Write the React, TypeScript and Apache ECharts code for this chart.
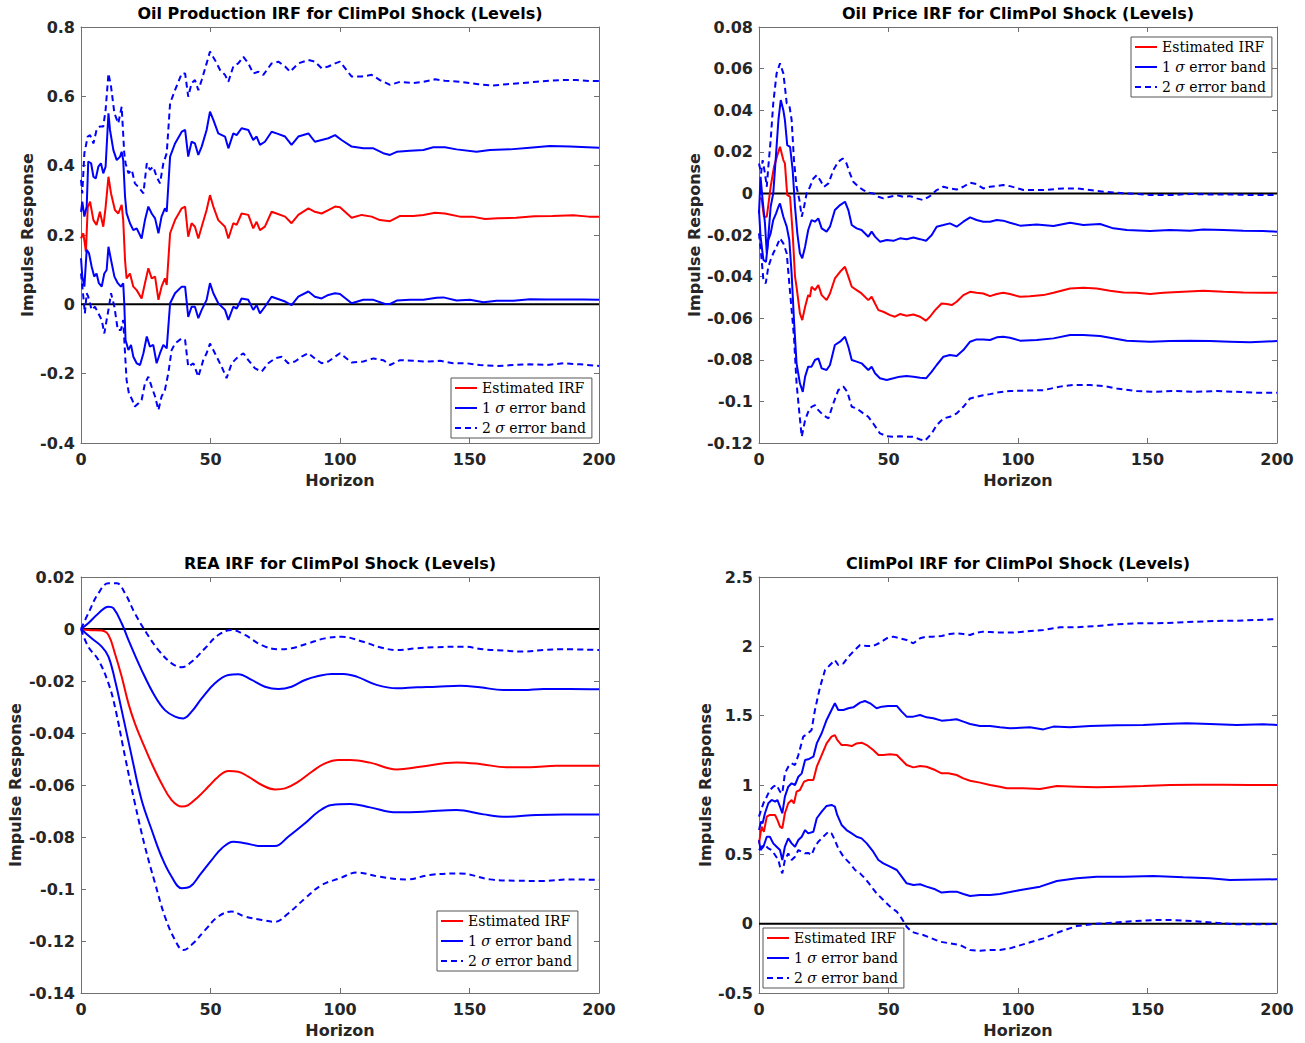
import React, { useEffect, useRef } from "react";
import * as echarts from "echarts";

type Pt = [number, number];

// ---------- tick values ----------
const horizonTicks = [0, 50, 100, 150, 200];
const prodYTicks = [-0.4, -0.2, 0, 0.2, 0.4, 0.6, 0.8];
const priceYTicks = [-0.12, -0.1, -0.08, -0.06, -0.04, -0.02, 0, 0.02, 0.04, 0.06, 0.08];
const reaYTicks = [-0.14, -0.12, -0.1, -0.08, -0.06, -0.04, -0.02, 0, 0.02];
const climYTicks = [-0.5, 0, 0.5, 1, 1.5, 2, 2.5];

const titles = [
  "Oil Production IRF for ClimPol Shock (Levels)",
  "Oil Price IRF for ClimPol Shock (Levels)",
  "REA IRF for ClimPol Shock (Levels)",
  "ClimPol IRF for ClimPol Shock (Levels)",
];
const xAxisName = "Horizon";
const yAxisName = "Impulse Response";
const legendNames = ["Estimated IRF", "1 σ error band", "2 σ error band"];

// ---------- Oil production ----------
const prodIrf: Pt[] = [[0,0.19],[0.9,0.205],[1.9,0.152],[2.6,0.28],[3.5,0.296],[4.8,0.243],[6,0.229],[7.3,0.267],[8.6,0.224],[9.5,0.28],[10.6,0.368],[11.6,0.32],[13.1,0.272],[14.4,0.262],[15.7,0.287],[16.3,0.243],[17,0.128],[17.6,0.075],[18.9,0.089],[20.2,0.051],[21.5,0.041],[23.4,0.017],[24.7,0.061],[26,0.104],[27.3,0.075],[28.6,0.08],[29.9,0.013],[31.1,0.051],[32.4,0.075],[33.1,0.056],[34.4,0.205],[36.3,0.243],[38.9,0.277],[40.2,0.282],[41.4,0.195],[42.7,0.234],[44,0.224],[45.3,0.19],[46.6,0.224],[48.5,0.272],[49.8,0.315],[51.1,0.282],[53,0.243],[55.6,0.224],[56.9,0.19],[58.8,0.234],[60.1,0.229],[62,0.262],[64.6,0.258],[66.5,0.219],[67.8,0.238],[69.1,0.214],[71,0.224],[73.6,0.267],[75.5,0.262],[78.8,0.253],[81.3,0.234],[83.9,0.258],[87.8,0.277],[90.3,0.267],[92.9,0.262],[95.5,0.272],[98.1,0.282],[100,0.28],[104.5,0.25],[108.4,0.258],[112.2,0.253],[115.4,0.243],[119.3,0.24],[123.2,0.255],[128.3,0.255],[132.2,0.258],[136.7,0.264],[140.5,0.262],[146.3,0.253],[151,0.253],[156,0.246],[161,0.248],[168,0.25],[175,0.254],[182,0.255],[190,0.257],[196,0.253],[200,0.253]];
const prodUp1: Pt[] = [[0,0.267],[0.5,0.296],[1.3,0.253],[2.2,0.282],[2.8,0.412],[3.9,0.407],[4.8,0.368],[5.7,0.363],[6.7,0.397],[7.7,0.407],[8.6,0.378],[9.5,0.397],[10.6,0.551],[11.2,0.503],[12.5,0.445],[13.8,0.416],[15.1,0.426],[15.7,0.44],[16.3,0.416],[17,0.311],[17.6,0.263],[18.9,0.234],[20.2,0.214],[21.5,0.219],[23.4,0.19],[24.7,0.243],[26,0.282],[27.3,0.262],[28.6,0.248],[29.9,0.205],[31.1,0.253],[32.4,0.277],[33.1,0.267],[34.4,0.426],[36.3,0.464],[38.9,0.498],[40.2,0.503],[41.4,0.426],[42.7,0.469],[44,0.464],[45.3,0.431],[46.6,0.455],[48.5,0.503],[49.8,0.556],[51.1,0.532],[53,0.493],[55.6,0.484],[56.9,0.45],[58.8,0.493],[60.1,0.488],[62,0.508],[64.6,0.503],[66.5,0.474],[67.8,0.484],[69.1,0.46],[71,0.469],[73.6,0.498],[75.5,0.493],[78.8,0.484],[81.3,0.46],[83.9,0.484],[87.8,0.493],[90.3,0.469],[92.9,0.474],[95.5,0.479],[98.1,0.488],[100.6,0.474],[104.5,0.455],[109,0.45],[112.9,0.45],[116.7,0.436],[119.3,0.431],[121.9,0.44],[127,0.443],[132.2,0.445],[136,0.453],[140.5,0.453],[145,0.447],[152.7,0.44],[157.9,0.445],[165.6,0.447],[173.3,0.452],[181,0.457],[188.8,0.455],[200,0.452]];
const prodLo1: Pt[] = [[0,0.133],[0.5,0.08],[1.3,0.051],[2.2,0.157],[3.1,0.147],[4.1,0.109],[5.1,0.08],[6,0.089],[6.9,0.061],[8,0.051],[9,0.089],[9.9,0.099],[10.6,0.166],[11.6,0.128],[12.9,0.08],[14.2,0.061],[15.4,0.051],[16.3,0.061],[16.7,0.003],[17.2,-0.103],[18.3,-0.132],[19.3,-0.117],[20.2,-0.151],[21.5,-0.17],[22.8,-0.175],[24.1,-0.141],[25.4,-0.093],[26.6,-0.122],[27.9,-0.117],[29.2,-0.17],[30.5,-0.141],[31.8,-0.117],[33.1,-0.127],[34.4,0.003],[36.3,0.032],[38.9,0.051],[40.2,0.051],[41.4,-0.036],[42.7,-0.007],[44,-0.007],[45.3,-0.04],[46.6,-0.016],[48.5,0.013],[49.8,0.061],[51.1,0.032],[53,0.003],[55.6,-0.016],[56.9,-0.045],[58.8,-0.007],[60.1,-0.012],[62,0.017],[64.6,0.013],[66.5,-0.016],[67.8,-0.002],[69.1,-0.026],[71,-0.007],[73.6,0.022],[75.5,0.017],[78.8,0.008],[81.3,-0.002],[83.9,0.022],[87.8,0.037],[90.3,0.022],[92.9,0.017],[95.5,0.027],[98.1,0.032],[100,0.03],[104.5,0.003],[109,0.013],[112.9,0.013],[117.4,0.001],[119.3,0.001],[121.9,0.011],[127,0.013],[132.2,0.013],[137.3,0.019],[139.9,0.02],[145,0.011],[150.2,0.013],[155.4,0.006],[160.5,0.01],[167,0.01],[173.3,0.015],[179.8,0.014],[186.2,0.014],[194,0.014],[200,0.013]];
const prodUp2: Pt[] = [[0,0.359],[0.5,0.32],[1.3,0.436],[2.6,0.484],[3.5,0.488],[4.8,0.464],[6,0.503],[7.3,0.513],[8.6,0.513],[9.5,0.561],[10.6,0.666],[11.6,0.628],[12.9,0.551],[14.4,0.522],[15.7,0.57],[16.7,0.436],[17.2,0.407],[18.3,0.378],[19.6,0.388],[20.8,0.349],[22.1,0.339],[24.1,0.32],[25.4,0.407],[26.6,0.388],[27.9,0.397],[29.2,0.368],[30.5,0.349],[31.8,0.407],[33.1,0.436],[34.4,0.58],[36.3,0.618],[38.9,0.666],[40.2,0.666],[41.4,0.599],[42.7,0.638],[44,0.647],[45.3,0.618],[46.6,0.647],[48.5,0.695],[49.8,0.729],[51.7,0.705],[53.7,0.676],[55.6,0.662],[56.9,0.642],[58.8,0.686],[60.7,0.695],[62.7,0.714],[64.6,0.695],[66.5,0.666],[68.5,0.671],[70.4,0.662],[73.6,0.695],[76.2,0.7],[78.8,0.686],[80.7,0.671],[83.9,0.695],[87.8,0.705],[90.3,0.7],[92.9,0.681],[95.5,0.686],[98.1,0.695],[100,0.7],[104.5,0.657],[108.4,0.657],[112.2,0.662],[115.4,0.647],[119.3,0.633],[123.2,0.642],[128.3,0.638],[132.2,0.642],[136.7,0.649],[140.5,0.645],[146.3,0.642],[153.4,0.635],[158.6,0.631],[164.4,0.635],[169.5,0.638],[176,0.642],[181,0.645],[186.2,0.647],[191.4,0.647],[196.5,0.644],[200,0.644]];
const prodLo2: Pt[] = [[0,0.089],[0.9,0.022],[1.5,-0.026],[2.2,0.032],[2.8,0.022],[4.1,-0.016],[5.4,-0.007],[6.7,-0.026],[8,-0.045],[9,-0.084],[9.9,-0.045],[10.8,-0.007],[11.6,0.032],[12.9,-0.007],[14.2,-0.074],[15.4,-0.074],[16.3,-0.045],[17,-0.141],[17.6,-0.218],[18.5,-0.257],[19.8,-0.276],[20.8,-0.295],[22.1,-0.286],[23.4,-0.276],[24.7,-0.228],[26,-0.209],[27.3,-0.238],[28.6,-0.266],[29.9,-0.305],[31.1,-0.266],[32.4,-0.247],[33.7,-0.199],[35,-0.132],[36.3,-0.113],[38.9,-0.098],[40.2,-0.103],[41.4,-0.18],[43.4,-0.17],[45.3,-0.209],[47.2,-0.161],[48.5,-0.141],[49.8,-0.113],[51.7,-0.141],[54.3,-0.18],[56.2,-0.213],[58.2,-0.17],[60.7,-0.151],[62.7,-0.141],[64.6,-0.161],[67.2,-0.185],[69.8,-0.194],[72.3,-0.17],[74.9,-0.156],[77.5,-0.151],[80,-0.17],[82.6,-0.165],[85.2,-0.151],[87.8,-0.141],[90.3,-0.156],[92.9,-0.17],[95.5,-0.165],[98.1,-0.151],[100,-0.141],[104.5,-0.168],[109,-0.165],[112.9,-0.156],[116.7,-0.161],[119.3,-0.175],[123.2,-0.161],[128.3,-0.163],[133.4,-0.165],[138.6,-0.163],[143.7,-0.17],[148.9,-0.17],[154,-0.175],[160.5,-0.178],[167,-0.175],[173.3,-0.173],[179.8,-0.175],[186.2,-0.17],[192.7,-0.173],[200,-0.178]];

// ---------- Oil price ----------
const priceIrf: Pt[] = [[0,-0.0024],[1,-0.0024],[1.9,-0.0112],[3,-0.0112],[3.6,-0.0056],[4.5,0.0032],[5.8,0.0128],[7.1,0.0184],[8.1,0.0224],[9.4,0.016],[10,0.0144],[10.9,-0.0008],[12,-0.0016],[13,-0.0192],[13.9,-0.04],[14.5,-0.0449],[15.8,-0.0577],[16.7,-0.0609],[17.8,-0.0545],[19,-0.0489],[19.7,-0.0497],[20.3,-0.0449],[21.6,-0.0465],[22.9,-0.0441],[24.2,-0.0489],[26.1,-0.0513],[27.4,-0.0481],[29.3,-0.0409],[31.3,-0.0377],[33.2,-0.0353],[34.5,-0.04],[35.8,-0.0449],[37.7,-0.0465],[39.6,-0.0481],[42.2,-0.0513],[43.5,-0.0497],[44.8,-0.0529],[46.1,-0.0561],[48,-0.0569],[50.6,-0.0585],[52.5,-0.0593],[54.4,-0.058],[57,-0.0588],[59.6,-0.0582],[62.2,-0.0593],[64.4,-0.0612],[66,-0.0593],[68,-0.0561],[70.5,-0.0529],[72.5,-0.0532],[74.4,-0.0537],[76.3,-0.0521],[78.9,-0.0489],[81.5,-0.0473],[84,-0.0478],[86.6,-0.0481],[89.2,-0.0494],[91.8,-0.0484],[94.3,-0.0478],[96.9,-0.0484],[100.8,-0.0497],[104.6,-0.0494],[109.8,-0.0489],[113.7,-0.0478],[120.1,-0.0457],[125.2,-0.0454],[130.4,-0.0457],[135.5,-0.0468],[140.7,-0.0476],[145.8,-0.0478],[151,-0.0484],[156.1,-0.0478],[163.8,-0.0473],[171.6,-0.0468],[179.3,-0.0473],[187,-0.0476],[194.7,-0.0478],[200,-0.0478]];
const priceUp1: Pt[] = [[0,-0.0096],[0.6,0.008],[1.4,-0.0032],[2.3,-0.0144],[3,-0.0288],[3.6,-0.0208],[4.5,-0.0064],[5.5,0],[6.6,0.0192],[7.5,0.0353],[8.4,0.0449],[9.4,0.04],[10,0.0353],[10.9,0.0232],[12,0.0224],[13,0.0112],[13.9,-0.0064],[14.8,-0.0192],[15.8,-0.0288],[16.7,-0.0312],[17.8,-0.0256],[19,-0.0176],[20.3,-0.0128],[21.6,-0.0136],[22.9,-0.012],[24.2,-0.0168],[26.1,-0.0184],[27.4,-0.016],[29.3,-0.008],[31.3,-0.0056],[33.2,-0.004],[34.5,-0.008],[35.8,-0.0152],[37.7,-0.0168],[39.6,-0.0176],[42.2,-0.0208],[43.5,-0.0184],[44.8,-0.0208],[46.7,-0.0232],[49.3,-0.0224],[51.9,-0.0228],[54.4,-0.0216],[57,-0.022],[59.6,-0.0212],[62.2,-0.022],[64.5,-0.0228],[66.7,-0.02],[68.6,-0.016],[71.2,-0.0152],[73.7,-0.0144],[76.3,-0.016],[78.9,-0.0136],[81.5,-0.0115],[84,-0.0128],[86.6,-0.0136],[89.2,-0.0136],[91.8,-0.0128],[94.3,-0.0131],[96.9,-0.0141],[100.8,-0.0155],[107.2,-0.0149],[113.7,-0.0157],[120.1,-0.0141],[125.2,-0.0152],[131.7,-0.0147],[136.8,-0.0168],[142,-0.0176],[151,-0.0181],[158.7,-0.0176],[166.4,-0.0179],[171.6,-0.0173],[179.3,-0.0176],[187,-0.0179],[194.7,-0.0181],[200,-0.0184]];
const priceLo1: Pt[] = [[0,-0.008],[0.6,-0.0208],[1.7,-0.032],[2.7,-0.0329],[3.6,-0.0224],[4.5,-0.0192],[5.5,-0.0128],[6.6,-0.0096],[7.5,-0.0064],[8.1,-0.0048],[9.4,-0.0112],[10.7,-0.016],[11.7,-0.0224],[12.6,-0.0385],[13.5,-0.0609],[14.5,-0.0817],[15.8,-0.0913],[16.9,-0.0954],[17.8,-0.0881],[19,-0.0833],[20.3,-0.0833],[21.6,-0.0801],[22.9,-0.0793],[24.2,-0.0841],[26.1,-0.0849],[27.4,-0.0825],[29.3,-0.0729],[31.3,-0.0713],[33.2,-0.0689],[34.5,-0.0737],[35.8,-0.0801],[37.7,-0.0809],[39.6,-0.0817],[42.2,-0.0849],[43.5,-0.0833],[44.8,-0.0865],[46.7,-0.0889],[49.3,-0.0897],[51.9,-0.0889],[54.4,-0.0881],[57,-0.0878],[59.6,-0.0881],[62.2,-0.0886],[64.5,-0.0889],[66.7,-0.0857],[68.6,-0.0825],[71.2,-0.0785],[73.7,-0.0777],[76.3,-0.0782],[78.9,-0.0753],[81.5,-0.0713],[84,-0.0702],[86.6,-0.0702],[89.2,-0.0705],[91.8,-0.0692],[94.3,-0.0689],[96.9,-0.0694],[100.8,-0.0708],[107.2,-0.0705],[113.7,-0.0697],[120.1,-0.0681],[125.2,-0.0681],[131.7,-0.0686],[142,-0.0708],[151,-0.0713],[158.7,-0.071],[166.4,-0.0708],[174.1,-0.071],[181.8,-0.0713],[189.6,-0.0716],[200,-0.071]];
const priceUp2: Pt[] = [[0,0.0144],[0.8,0.0096],[1.4,0.016],[2.3,0.0096],[3,0.0032],[3.6,0.0128],[4.5,0.0256],[5.5,0.0433],[6.8,0.0577],[8.1,0.0625],[9.4,0.0577],[10,0.0513],[10.7,0.0433],[11.7,0.0425],[12.6,0.0353],[13.5,0.016],[14.5,0.0032],[15.6,-0.0032],[16.5,-0.0112],[17.4,-0.0064],[18.4,0],[19.7,0.0032],[21,0.0072],[22.3,0.0088],[23.6,0.0064],[25.1,0.0032],[26.8,0.0048],[28.7,0.0112],[30.6,0.0152],[32.3,0.0168],[33.8,0.0144],[35.1,0.0096],[36.4,0.0056],[38.4,0.0032],[40.3,0.0016],[42.2,0.0003],[44.1,0],[46.1,-0.0016],[48,-0.0024],[50.6,-0.0016],[53.2,-0.0008],[55.7,-0.0016],[58.3,-0.0013],[60.9,-0.0024],[63.4,-0.0032],[66,-0.0013],[68.6,0.0016],[71.2,0.0032],[73.7,0.0024],[76.3,0.0019],[78.9,0.0032],[81.5,0.0051],[84,0.0045],[86.6,0.0024],[89.2,0.0032],[91.8,0.0035],[94.3,0.004],[96.9,0.0035],[102.1,0.0016],[109.8,0.0016],[117.5,0.0024],[122.6,0.0024],[127.8,0.0016],[133,0.0008],[138.1,0.0003],[145.8,-0.0003],[151,-0.0008],[158.7,-0.0008],[166.4,-0.0003],[174.1,-0.0005],[181.8,-0.0005],[189.6,-0.0008],[200,-0.0008]];
const priceLo2: Pt[] = [[0,-0.0192],[0.8,-0.0288],[1.7,-0.0417],[2.6,-0.0433],[3.6,-0.0353],[4.5,-0.032],[5.5,-0.0288],[6.8,-0.0256],[8.1,-0.0216],[9.4,-0.024],[10.7,-0.0288],[11.7,-0.0433],[12.6,-0.0561],[13.5,-0.0689],[14.5,-0.0913],[15.6,-0.1058],[16.5,-0.117],[17.8,-0.109],[19,-0.105],[20.3,-0.1026],[21.6,-0.1018],[22.9,-0.1042],[24.8,-0.1066],[26.8,-0.1082],[28.7,-0.101],[30.6,-0.0946],[32.6,-0.0929],[34.1,-0.0954],[35.8,-0.1026],[37.7,-0.1034],[40.3,-0.1058],[42.2,-0.1074],[44.1,-0.1106],[46.7,-0.1154],[49.3,-0.1167],[51.9,-0.117],[54.4,-0.1167],[57,-0.117],[59.6,-0.117],[62.2,-0.1183],[64.1,-0.1189],[66.7,-0.1154],[68.6,-0.1114],[71.2,-0.1082],[73.7,-0.1074],[76.3,-0.1058],[78.9,-0.1026],[81.5,-0.0986],[84,-0.0978],[86.6,-0.097],[89.2,-0.0965],[91.8,-0.0958],[94.3,-0.0954],[96.9,-0.095],[103,-0.0948],[109.8,-0.0946],[116.2,-0.0929],[121.4,-0.0921],[127.8,-0.0921],[133,-0.0926],[138.1,-0.0938],[145.8,-0.095],[152.2,-0.0954],[160,-0.095],[169,-0.0954],[176.7,-0.095],[184.4,-0.0954],[192.2,-0.0958],[200,-0.0958]];

// ---------- REA ----------
const reaIrf: Pt[] = [[0,0],[2.8,-0.0004],[8,-0.0006],[10.6,-0.0023],[13.1,-0.0094],[15.7,-0.0183],[18.3,-0.0286],[20.8,-0.0363],[23.4,-0.0427],[27.3,-0.0517],[31.1,-0.0594],[35,-0.0658],[38.9,-0.0683],[41.4,-0.0677],[45.3,-0.0645],[49.2,-0.0606],[53,-0.0568],[56.9,-0.0546],[60.7,-0.0549],[64.6,-0.0568],[69.8,-0.06],[74.9,-0.0617],[78.8,-0.0613],[83.9,-0.0587],[89.1,-0.0549],[94.2,-0.0517],[99.4,-0.0504],[103.9,-0.0504],[111.6,-0.0514],[121.9,-0.054],[130.9,-0.053],[145,-0.0513],[154,-0.0519],[164.3,-0.0532],[173.3,-0.0532],[183.6,-0.0526],[200,-0.0526]];
const reaUp1: Pt[] = [[0,0],[2.8,0.0022],[6.7,0.006],[10.6,0.0086],[12.5,0.008],[15.7,0.0022],[18.3,-0.0042],[23.4,-0.0158],[28.6,-0.026],[32.4,-0.0312],[36.3,-0.0337],[39.5,-0.0344],[42.7,-0.0318],[46.6,-0.0267],[51.7,-0.0209],[56.9,-0.0177],[60.7,-0.0174],[65.9,-0.0196],[71,-0.0222],[76.2,-0.0231],[81.3,-0.0222],[86.5,-0.0196],[91.6,-0.0181],[96.8,-0.0173],[101.3,-0.0173],[106.4,-0.0183],[114.1,-0.0215],[121.9,-0.0228],[129.6,-0.0224],[137.3,-0.0222],[146.3,-0.0218],[154,-0.0224],[163,-0.0235],[170.8,-0.0235],[178.5,-0.0231],[188.8,-0.0231],[200,-0.0232]];
const reaLo1: Pt[] = [[0,0],[4.1,-0.0036],[8,-0.0068],[10.6,-0.0106],[13.1,-0.0196],[15.7,-0.0312],[19.6,-0.0491],[23.4,-0.0658],[27.3,-0.0773],[31.1,-0.0876],[35,-0.0953],[38.9,-0.0997],[42.1,-0.0991],[45.9,-0.0946],[50.5,-0.0888],[54.3,-0.0844],[58.8,-0.0818],[63.3,-0.0824],[69.8,-0.0835],[74.9,-0.0835],[80,-0.0799],[86.5,-0.0747],[91.6,-0.0703],[96.8,-0.0677],[103.9,-0.0673],[111.6,-0.0686],[121.9,-0.0705],[132.2,-0.0703],[145,-0.0696],[155.4,-0.0713],[164.3,-0.0722],[175.9,-0.0715],[186.2,-0.0713],[200,-0.0713]];
const reaUp2: Pt[] = [[0,0],[2.8,0.006],[6.7,0.0137],[10.6,0.0176],[13.8,0.0176],[17,0.0137],[20.8,0.006],[25.4,-0.0017],[29.9,-0.0081],[35,-0.0132],[38.9,-0.0147],[42.7,-0.0126],[47.9,-0.0074],[53,-0.0023],[58.2,-0.0004],[63.3,-0.0023],[69.8,-0.0062],[76.2,-0.0078],[81.3,-0.0074],[87.8,-0.0055],[94.2,-0.0036],[100.6,-0.003],[109,-0.0049],[115.4,-0.007],[122,-0.0081],[129.6,-0.0074],[137.3,-0.007],[147.6,-0.0068],[155.4,-0.0078],[163,-0.0083],[170.8,-0.0087],[178.5,-0.0081],[186.2,-0.0078],[200,-0.0081]];
const reaLo2: Pt[] = [[0,0],[2.8,-0.0068],[6.7,-0.0119],[10.6,-0.0209],[13.1,-0.0299],[17,-0.0491],[20.8,-0.067],[24.7,-0.0837],[28.6,-0.0978],[32.4,-0.1106],[36.3,-0.1196],[39.5,-0.1235],[43.3,-0.1209],[47.9,-0.1158],[53,-0.1106],[58.2,-0.1087],[63.3,-0.1106],[69.8,-0.1119],[74.9,-0.1126],[80,-0.1094],[86.5,-0.1036],[92.9,-0.0985],[99.9,-0.0959],[106.4,-0.0937],[115.4,-0.0953],[125.7,-0.0963],[134.7,-0.0946],[146.3,-0.094],[157.9,-0.0963],[168.2,-0.0968],[178.5,-0.0969],[188.8,-0.0963],[200,-0.0965]];

// ---------- ClimPol ----------
const climIrf: Pt[] = [[0,0.579],[1,0.7],[1.9,0.663],[3,0.772],[4.2,0.784],[6.2,0.784],[7.1,0.748],[8.1,0.7],[9,0.688],[10,0.796],[11.3,0.868],[12.6,0.892],[13.5,0.868],[14.5,0.952],[15.8,0.964],[17.4,1.024],[19,1.036],[21,1.036],[22.3,1.132],[24.2,1.216],[26.1,1.3],[28,1.349],[29.3,1.36],[30.2,1.325],[31.9,1.288],[33.8,1.288],[35.8,1.281],[37.7,1.3],[39.6,1.305],[41.6,1.288],[44.1,1.252],[46.1,1.216],[48,1.216],[50.6,1.221],[53.2,1.216],[55.1,1.18],[57,1.144],[59.6,1.127],[62.2,1.137],[64.7,1.132],[68,1.108],[70.5,1.084],[73.1,1.084],[76.3,1.072],[78.9,1.048],[81.5,1.031],[85.3,1.017],[89.2,1.0],[93,0.988],[95.6,0.976],[98.2,0.976],[102,0.976],[108.5,0.971],[115,0.993],[122.7,0.988],[130.4,0.983],[139.4,0.988],[148.4,0.993],[158.7,1.0],[169,1.002],[179.3,1.002],[189.6,1.0],[200,1.0]];
const climUp1: Pt[] = [[0,0.675],[0.8,0.736],[1.4,0.724],[2.3,0.796],[3.6,0.868],[4.9,0.892],[6.2,0.88],[7.1,0.892],[8.1,0.844],[9,0.796],[10,0.916],[11.3,0.988],[12.6,1.012],[13.9,1.0],[15.2,1.06],[16.5,1.084],[17.8,1.18],[19,1.185],[21,1.204],[22.3,1.3],[24.2,1.373],[26.1,1.469],[28,1.541],[29.3,1.589],[30.6,1.541],[32.6,1.541],[34.5,1.553],[36.4,1.56],[39,1.594],[40.9,1.606],[42.9,1.589],[45.4,1.553],[47.4,1.565],[49.9,1.57],[53.2,1.57],[55.1,1.529],[57,1.493],[59.6,1.493],[62.2,1.505],[64.7,1.488],[67.3,1.481],[70.5,1.464],[73.7,1.469],[76.3,1.474],[78.9,1.457],[81.5,1.44],[85.3,1.425],[89.2,1.425],[93,1.416],[96.9,1.409],[104.6,1.416],[109.8,1.401],[113.7,1.421],[120.1,1.416],[127.8,1.425],[138.1,1.43],[148.4,1.433],[156.1,1.44],[165.1,1.445],[174.1,1.44],[184.4,1.433],[194.7,1.438],[200,1.433]];
const climLo1: Pt[] = [[0,0.603],[0.6,0.531],[1.7,0.555],[3,0.627],[4.2,0.627],[5.5,0.579],[6.8,0.555],[8.1,0.531],[9,0.459],[10,0.555],[11.3,0.615],[12.6,0.579],[13.9,0.555],[15.2,0.603],[16.5,0.627],[17.8,0.675],[19,0.651],[21,0.663],[22.3,0.76],[24.2,0.808],[26.1,0.849],[28,0.856],[29.3,0.844],[30.2,0.784],[31.9,0.712],[33.8,0.675],[35.8,0.651],[37.7,0.627],[39.6,0.615],[41.6,0.579],[44.1,0.519],[46.1,0.459],[48,0.435],[50.6,0.411],[53.2,0.387],[55.1,0.339],[57,0.291],[59.6,0.279],[62.2,0.284],[64.7,0.267],[68,0.248],[70.5,0.224],[73.7,0.231],[76.3,0.231],[78.9,0.214],[81.5,0.2],[85.3,0.207],[89.2,0.207],[93,0.214],[96.9,0.228],[101,0.243],[108.5,0.267],[115,0.308],[122.7,0.327],[130.4,0.339],[140.7,0.339],[152.2,0.344],[163.8,0.334],[174.1,0.327],[181.8,0.315],[200,0.32]];
const climUp2: Pt[] = [[0,0.772],[0.8,0.82],[1.7,0.868],[3,0.916],[4.2,0.964],[5.5,0.988],[6.8,1.0],[8.1,0.952],[9,0.94],[10,1.084],[11.3,1.132],[12.6,1.156],[13.9,1.144],[15.2,1.216],[17.1,1.349],[19,1.373],[20.3,1.397],[21.6,1.541],[23.6,1.709],[25.5,1.829],[27.4,1.865],[29.3,1.901],[30.6,1.865],[32.6,1.877],[34.5,1.925],[36.4,1.962],[39,2.01],[41.6,2.002],[44.1,2.002],[46.7,2.026],[49.3,2.058],[51.9,2.07],[54.4,2.058],[57,2.046],[59.6,2.022],[62.2,2.058],[64.7,2.07],[67.3,2.07],[70.5,2.075],[73.7,2.089],[76.3,2.094],[78.9,2.089],[81.5,2.082],[84,2.099],[86.6,2.106],[89.2,2.103],[91.8,2.099],[94.3,2.099],[98.2,2.099],[102,2.106],[109.8,2.118],[116.2,2.137],[122.7,2.137],[130.4,2.147],[138.1,2.159],[145.8,2.166],[153.5,2.166],[161.3,2.171],[169,2.178],[176.7,2.183],[184.4,2.185],[192.2,2.19],[200,2.197]];
const climLo2: Pt[] = [[0,0.531],[1,0.555],[2.3,0.567],[3.6,0.543],[4.9,0.531],[6.2,0.495],[7.5,0.459],[8.4,0.387],[9,0.363],[10,0.459],[11.3,0.507],[12.6,0.459],[13.9,0.483],[15.2,0.531],[16.5,0.519],[17.8,0.507],[19,0.51],[20.3,0.495],[21.6,0.555],[22.9,0.591],[24.8,0.627],[26.8,0.663],[28,0.651],[29.3,0.603],[30.6,0.543],[32.6,0.483],[35.1,0.435],[37.1,0.387],[39,0.363],[40.9,0.327],[42.9,0.279],[45.4,0.219],[48,0.171],[50.6,0.123],[53.2,0.087],[55.1,0.038],[57,-0.022],[58.9,-0.058],[60.9,-0.07],[63.4,-0.082],[66.7,-0.106],[69.9,-0.13],[73.7,-0.142],[77.6,-0.154],[81.5,-0.19],[85.3,-0.195],[89.2,-0.19],[93,-0.19],[96.9,-0.178],[103.3,-0.142],[109.8,-0.106],[116.2,-0.058],[122.7,-0.017],[129.1,-0.002],[136.8,0.007],[144.5,0.019],[152.2,0.026],[160,0.026],[167.7,0.019],[175.4,0.007],[184.4,-0.005],[192.2,-0.005],[200,-0.002]];

// ---------- layout & style ----------
const W = 1305;
const H = 1043;
const PLOT_W = 518;
const PLOT_H = 416;
const RED = "#ff0000";
const BLUE = "#0000ff";
const BOX = "#707070";
const TICK_TEXT = "#262626";
const SANS = '"DejaVu Sans", sans-serif';
const SERIF = '"DejaVu Serif", serif';

const layout = [
  { left: 81, top: 27, legendLeft: 451, legendTop: 378, yLabelX: 27 },
  { left: 759, top: 27, legendLeft: 1131, legendTop: 37, yLabelX: 694 },
  { left: 81, top: 577, legendLeft: 437, legendTop: 911, yLabelX: 15 },
  { left: 759, top: 577, legendLeft: 763, legendTop: 928, yLabelX: 705 },
];

const panelData = [
  { irf: prodIrf, up1: prodUp1, lo1: prodLo1, up2: prodUp2, lo2: prodLo2, yTicks: prodYTicks, smooth: false },
  { irf: priceIrf, up1: priceUp1, lo1: priceLo1, up2: priceUp2, lo2: priceLo2, yTicks: priceYTicks, smooth: false },
  { irf: reaIrf, up1: reaUp1, lo1: reaLo1, up2: reaUp2, lo2: reaLo2, yTicks: reaYTicks, smooth: true },
  { irf: climIrf, up1: climUp1, lo1: climLo1, up2: climUp2, lo2: climLo2, yTicks: climYTicks, smooth: false },
];

function step(t: number[]) {
  return Math.round((t[1] - t[0]) * 1e6) / 1e6;
}

function buildOption() {
  const grid: any[] = [];
  const xAxis: any[] = [];
  const yAxis: any[] = [];
  const series: any[] = [];
  const legend: any[] = [];
  const graphic: any[] = [];

  const axisLine = { show: true, onZero: false, lineStyle: { color: BOX, width: 1 } };
  const axisTick = { show: true, inside: true, length: 5, lineStyle: { color: BOX, width: 1 } };
  const labelStyle = { color: TICK_TEXT, fontSize: 16, fontWeight: "bold", fontFamily: SANS };

  panelData.forEach((p, i) => {
    const L = layout[i];
    grid.push({ left: L.left, top: L.top, width: PLOT_W, height: PLOT_H, containLabel: false });
    const xMin = horizonTicks[0];
    const xMax = horizonTicks[horizonTicks.length - 1];
    const xBase = { gridIndex: i, type: "value", min: xMin, max: xMax, interval: step(horizonTicks), splitLine: { show: false }, axisLine, axisTick };
    xAxis.push({ ...xBase, position: "bottom", axisLabel: { ...labelStyle, margin: 8 } });
    xAxis.push({ ...xBase, position: "top", axisLabel: { show: false } });
    const yMin = p.yTicks[0];
    const yMax = p.yTicks[p.yTicks.length - 1];
    const yBase = { gridIndex: i, type: "value", min: yMin, max: yMax, interval: step(p.yTicks), splitLine: { show: false }, axisLine, axisTick };
    yAxis.push({ ...yBase, position: "left", axisLabel: { ...labelStyle, margin: 6 } });
    yAxis.push({ ...yBase, position: "right", axisLabel: { show: false } });

    const mk = (name: string, data: any[], color: string, dashed: boolean, smooth: boolean, width = 2) => ({
      type: "line",
      name,
      data,
      xAxisIndex: 2 * i,
      yAxisIndex: 2 * i,
      showSymbol: false,
      symbol: "none",
      smooth: smooth ? 0.4 : false,
      silent: true,
      clip: true,
      lineStyle: { color, width, type: dashed ? [6, 4] : "solid" },
      itemStyle: { color },
    });
    series.push(mk("zero", [[xMin, 0], [xMax, 0]], "#000000", false, false, 2));
    series.push(mk(legendNames[0], p.irf, RED, false, p.smooth));
    series.push(mk(legendNames[1], p.up1, BLUE, false, p.smooth));
    series.push(mk(legendNames[1], p.lo1, BLUE, false, p.smooth));
    series.push(mk(legendNames[2], p.up2, BLUE, true, p.smooth));
    series.push(mk(legendNames[2], p.lo2, BLUE, true, p.smooth));

    legend.push({
      orient: "vertical",
      left: L.legendLeft,
      top: L.legendTop,
      data: legendNames,
      selectedMode: false,
      itemWidth: 22,
      itemHeight: 14,
      itemGap: 6,
      padding: [3, 6, 3, 3],
      borderColor: "#555555",
      borderWidth: 1,
      backgroundColor: "#ffffff",
      itemStyle: { opacity: 0, borderWidth: 0 },
      lineStyle: { width: 2 },
      formatter: (n: string) => n.replace("σ", "{s|σ}"),
      textStyle: {
        fontFamily: SERIF,
        fontSize: 14,
        color: "#000000",
        rich: { s: { fontFamily: SERIF, fontSize: 14, fontStyle: "italic", color: "#000000" } },
      },
    });

    const cx = L.left + PLOT_W / 2;
    graphic.push({
      type: "text",
      x: cx,
      y: L.top - 14,
      style: { text: titles[i], font: `bold 16px ${SANS}`, fill: "#000000", align: "center", verticalAlign: "middle" },
    });
    graphic.push({
      type: "text",
      x: cx,
      y: L.top + PLOT_H + 37,
      style: { text: xAxisName, font: `bold 16px ${SANS}`, fill: TICK_TEXT, align: "center", verticalAlign: "middle" },
    });
    graphic.push({
      type: "text",
      x: L.yLabelX,
      y: L.top + PLOT_H / 2,
      rotation: Math.PI / 2,
      style: { text: yAxisName, font: `bold 16px ${SANS}`, fill: TICK_TEXT, align: "center", verticalAlign: "middle" },
    });
  });

  return {
    animation: false,
    backgroundColor: "#ffffff",
    grid,
    xAxis,
    yAxis,
    series,
    legend,
    graphic,
  };
}

export default function App() {
  const ref = useRef<HTMLDivElement>(null);
  useEffect(() => {
    if (!ref.current) return;
    const chart = echarts.init(ref.current, null, { renderer: "svg", width: W, height: H });
    chart.setOption(buildOption() as any);
    return () => chart.dispose();
  }, []);
  return (
    <div style={{ position: "fixed", left: 0, top: 0, width: W, height: H, background: "#fff" }}>
      <div ref={ref} style={{ width: W, height: H }} />
    </div>
  );
}
